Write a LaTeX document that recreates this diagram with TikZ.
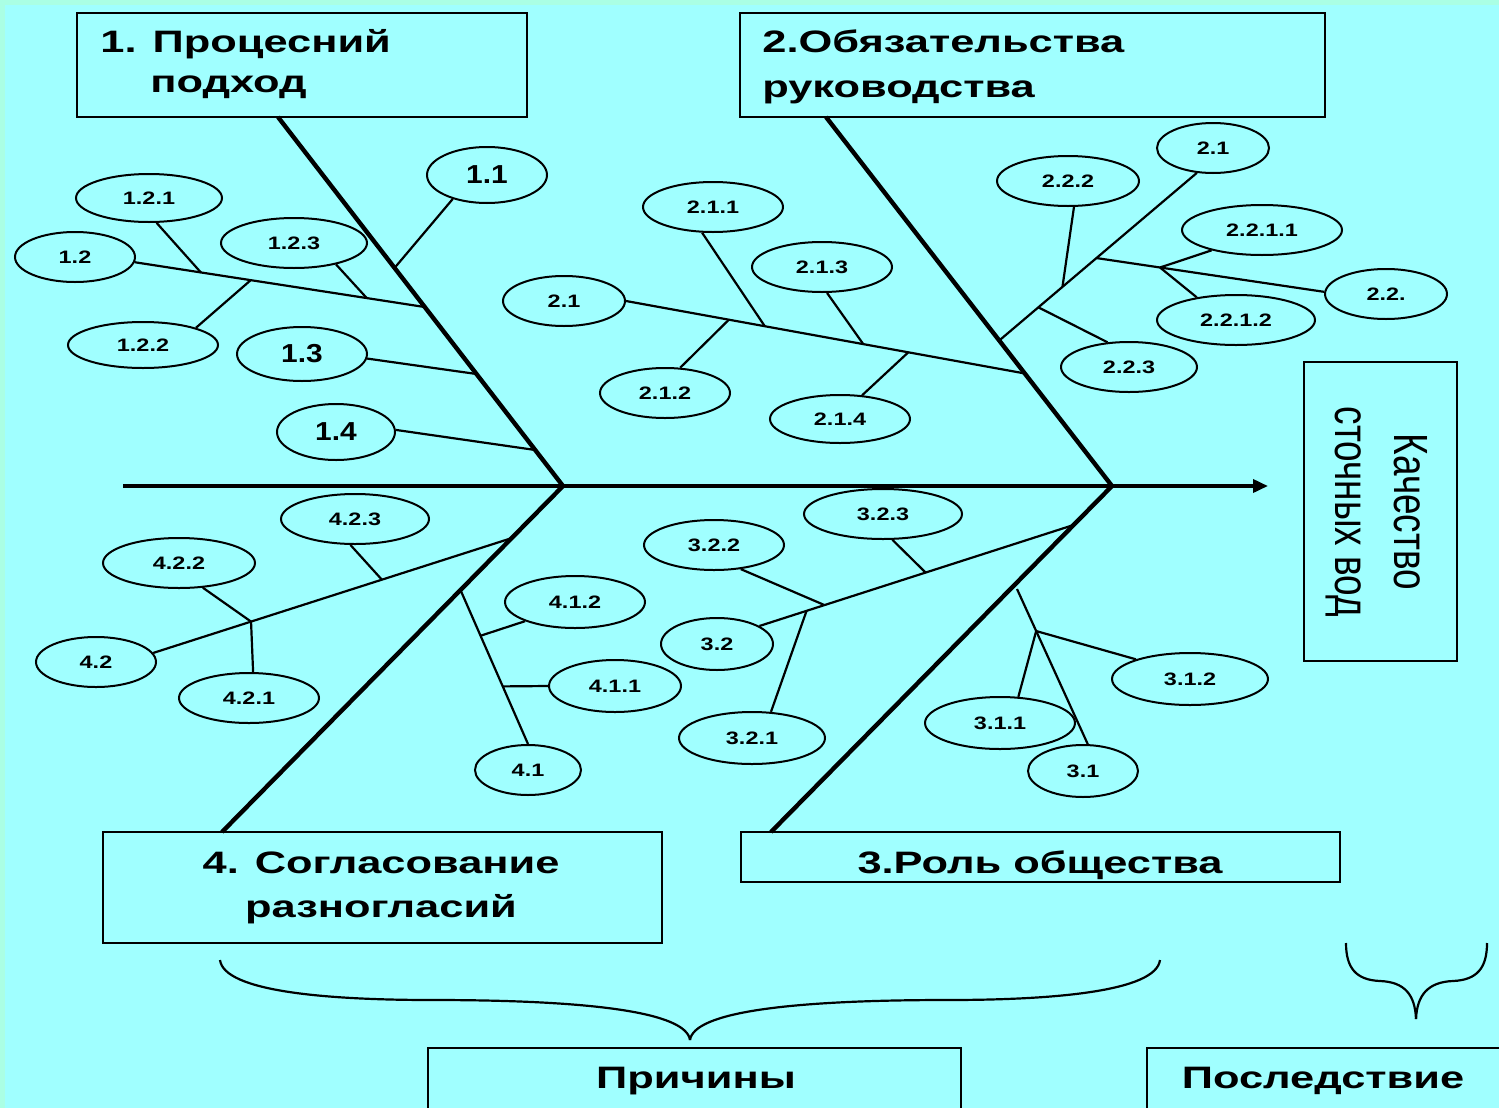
\documentclass[tikz,border=0pt]{standalone}
\usepackage{fontspec}
\setmainfont{Liberation Sans}
\newfontfamily\wf[FakeStretch=1.4]{Liberation Sans}
\newfontfamily\wfs[FakeStretch=1.3]{Liberation Sans}
\newfontfamily\wfm[FakeStretch=1.15]{Liberation Sans}
\newfontfamily\nf[FakeStretch=0.77]{Liberation Sans}
\usetikzlibrary{shapes.geometric,arrows.meta,calc}
\definecolor{bgc}{RGB}{160,255,255}
\definecolor{edgec}{RGB}{170,255,228}
\begin{document}
\begin{tikzpicture}[x=0.5pt,y=-0.5pt,
  ell/.style 2 args={ellipse,draw,line width=1pt,inner sep=0pt,minimum width=#1pt,minimum height=#2pt,font=\wfs\bfseries\fontsize{9}{10}\selectfont},
  bigl/.style={font=\wfm\bfseries\fontsize{13}{15}\selectfont},
  box/.style={draw,line width=1.4pt,inner sep=0pt},
  btxt/.style={inner sep=0pt,font=\wf\bfseries\fontsize{15.5}{18}\selectfont},
  twig/.style={line width=1.1pt},
  bone/.style={line width=2.2pt},
  spine/.style={line width=1.8pt},
  brace/.style={line width=1.1pt},
]
\fill[edgec] (0,0) rectangle (1499,1108);
\fill[bgc] (5,5) rectangle (1499,1108);
\useasboundingbox (0,0) rectangle (1499,1108);
\clip (0,0) rectangle (1499,1108);

% boxes
\node[box,minimum width=225pt,minimum height=52pt] (b1) at (302,65) {};
\node[box,minimum width=292.5pt,minimum height=52pt] (b2) at (1032.5,65) {};
\node[box,minimum width=279.5pt,minimum height=55.5pt] (b4) at (382.5,887.5) {};
\node[box,minimum width=299.5pt,minimum height=25pt] (b3) at (1040.5,857) {};
\node[box,minimum width=76.5pt,minimum height=149.5pt] (bq) at (1380.5,511.5) {};
\node[box,minimum width=266.5pt,minimum height=40pt] (bp) at (694.5,1088) {};
\node[box,minimum width=181.5pt,minimum height=40pt] (bs) at (1328.5,1088) {};

% box texts
\node[btxt,anchor=base west] (t1a) at (100,53) {1. Процесний};
\node[btxt,anchor=base west] (t1b) at (150,92) {подход};
\node[btxt,anchor=base west] (t2a) at (762,53) {2.Обязательства};
\node[btxt,anchor=base west] (t2b) at (762,97) {руководства};
\node[btxt,anchor=base] (t4a) at (381,873) {4. Согласование};
\node[btxt,anchor=base] (t4b) at (381,917) {разногласий};
\node[btxt,anchor=base] (t3) at (1040,873) {3.Роль общества};
\node[btxt,anchor=base] (tp) at (696,1088) {Причины};
\node[btxt,anchor=base] (ts) at (1323,1088) {Последствие};
\node[rotate=-90,align=center,inner sep=0pt,font=\nf\fontsize{24}{29.5}\selectfont] (tq) at (1377,512) {Качество\\сточных вод};

% ellipses group 1
\node[ell={60}{28},bigl] (e11) at (487,175) {1.1};
\node[ell={60}{25}] (e12) at (75,257) {1.2};
\node[ell={73}{24}] (e121) at (149,198) {1.2.1};
\node[ell={73}{25}] (e123) at (294,243) {1.2.3};
\node[ell={75}{23}] (e122) at (143,345) {1.2.2};
\node[ell={65}{27},bigl] (e13) at (302,354) {1.3};
\node[ell={59}{28},bigl] (e14) at (336,432) {1.4};
% group 2
\node[ell={61}{25}] (e21) at (564,301) {2.1};
\node[ell={70}{25}] (e211) at (713,207) {2.1.1};
\node[ell={70}{25}] (e213) at (822,267) {2.1.3};
\node[ell={65}{25}] (e212) at (665,393) {2.1.2};
\node[ell={70}{24}] (e214) at (840,419) {2.1.4};
\node[ell={56}{25}] (e2r) at (1213,148) {2.1};
\node[ell={71}{25}] (e222) at (1068,181) {2.2.2};
\node[ell={80}{25}] (e2211) at (1262,230) {2.2.1.1};
\node[ell={61}{25}] (e22) at (1386,294) {2.2.};
\node[ell={79}{25}] (e2212) at (1236,320) {2.2.1.2};
\node[ell={68}{25}] (e223) at (1129,367) {2.2.3};
% group 4
\node[ell={74}{25}] (e423) at (355,519) {4.2.3};
\node[ell={76}{25}] (e422) at (179,563) {4.2.2};
\node[ell={60}{25}] (e42) at (96,662) {4.2};
\node[ell={70}{25}] (e421) at (249,698) {4.2.1};
\node[ell={70}{26}] (e412) at (575,602) {4.1.2};
\node[ell={66}{26}] (e411) at (615,686) {4.1.1};
\node[ell={53}{25}] (e41) at (528,770) {4.1};
% group 3
\node[ell={79}{25}] (e323) at (883,514) {3.2.3};
\node[ell={70}{25}] (e322) at (714,545) {3.2.2};
\node[ell={56}{26}] (e32) at (717,644) {3.2};
\node[ell={73}{26}] (e321) at (752,738) {3.2.1};
\node[ell={78}{26}] (e312) at (1190,679) {3.1.2};
\node[ell={75}{26}] (e311) at (1000,723) {3.1.1};
\node[ell={55}{26}] (e31) at (1083,771) {3.1};

% skeleton coordinates
\coordinate (B1t) at (278,117);
\coordinate (J1) at (563,486);
\coordinate (B4b) at (222,832);
\coordinate (B2t) at (826,117);
\coordinate (J2) at (1112,486);
\coordinate (B3b) at (771,832);
\coordinate (sp0) at (123,486);
\coordinate (sp1) at (1268,486);

\coordinate (k11) at ($(B1t)!0.409!(J1)$);
\coordinate (k12) at ($(B1t)!0.515!(J1)$);
\coordinate (k13) at ($(B1t)!0.6965!(J1)$);
\coordinate (k14) at ($(B1t)!0.9024!(J1)$);
\coordinate (k21) at ($(B2t)!0.695!(J2)$);
\coordinate (k22) at ($(B2t)!0.6057!(J2)$);
\coordinate (k42) at ($(J1)!0.1506!(B4b)$);
\coordinate (k41) at ($(J1)!0.3006!(B4b)$);
\coordinate (k32) at ($(J2)!0.1127!(B3b)$);
\coordinate (k31) at (1017,589);

\coordinate (s12) at (e12.355);
\coordinate (s21) at (e21.0);
\coordinate (s2r) at (e2r.237);
\coordinate (s22) at (e22.178);
\coordinate (s42) at (e42.9);
\coordinate (s41) at (e41.90);
\coordinate (s32) at (e32.23);
\coordinate (s31) at (e31.80);

\coordinate (j121) at ($(s12)!0.228!(k12)$);
\coordinate (j123) at ($(s12)!0.8!(k12)$);
\coordinate (j122) at ($(s12)!0.4!(k12)$);
\coordinate (j211) at ($(s21)!0.348!(k21)$);
\coordinate (j213) at ($(s21)!0.595!(k21)$);
\coordinate (j212) at ($(s21)!0.258!(k21)$);
\coordinate (j214) at ($(s21)!0.708!(k21)$);
\coordinate (j222) at ($(s2r)!0.680!(k22)$);
\coordinate (j223) at ($(s2r)!0.802!(k22)$);
\coordinate (j22) at ($(s2r)!0.508!(k22)$);
\coordinate (j221) at ($(j22)!0.279!(s22)$);
\coordinate (j423) at ($(s42)!0.638!(k42)$);
\coordinate (j42x) at ($(s42)!0.273!(k42)$);
\coordinate (j412) at ($(k41)!0.297!(s41)$);
\coordinate (j411) at ($(k41)!0.626!(s41)$);
\coordinate (j323) at ($(s32)!0.529!(k32)$);
\coordinate (j322) at ($(s32)!0.207!(k32)$);
\coordinate (j321) at ($(s32)!0.150!(k32)$);
\coordinate (j31) at ($(k31)!0.271!(s31)$);

% main skeleton
\draw[bone] (B1t) -- (J1) -- (B4b);
\draw[bone] (B2t) -- (J2) -- (B3b);
\draw[spine,-{Triangle[length=7.5pt,width=6.5pt]}] (sp0) -- (sp1);

% twigs
\draw[twig] (e11.215) -- (k11);
\draw[twig] (s12) -- (k12);
\draw[twig] (e121.287) -- (j121);
\draw[twig] (e123.333) -- (j123);
\draw[twig] (e122.18) -- (j122);
\draw[twig] (e13.356) -- (k13);
\draw[twig] (e14.2) -- (k14);
\draw[twig] (s21) -- (k21);
\draw[twig] (e211.247) -- (j211);
\draw[twig] (e213.281) -- (j213);
\draw[twig] (e212.59) -- (j212);
\draw[twig] (e214.47) -- (j214);
\draw[twig] (s2r) -- (k22);
\draw[twig] (e222.283) -- (j222);
\draw[twig] (e223.131) -- (j223);
\draw[twig] (j22) -- (s22);
\draw[twig] (e2211.202) -- (j221);
\draw[twig] (e2212.150) -- (j221);
\draw[twig] (s42) -- (k42);
\draw[twig] (e423.260) -- (j423);
\draw[twig] (e422.314) -- (j42x);
\draw[twig] (e421.81) -- (j42x);
\draw[twig] (k41) -- (s41);
\draw[twig] (e412.201) -- (j412);
\draw[twig] (e411.180) -- (j411);
\draw[twig] (s32) -- (k32);
\draw[twig] (e323.290) -- (j323);
\draw[twig] (e322.318) -- (j322);
\draw[twig] (e321.54) -- (j321);
\draw[twig] (k31) -- (s31);
\draw[twig] (e311.55) -- (j31);
\draw[twig] (e312.160) -- (j31);

% braces
\coordinate (brL) at (220,960);
\coordinate (brM) at (690,1040);
\coordinate (brR) at (1160,960);
\draw[brace] (brL) .. controls (224,992) and (330,1000) .. (432,1000) .. controls (590,1000) and (686,1012) .. (brM);
\draw[brace] (brR) .. controls (1156,992) and (1050,1000) .. (948,1000) .. controls (790,1000) and (694,1012) .. (brM);
\coordinate (sbL) at (1346,943);
\coordinate (sbM) at (1416,1019);
\coordinate (sbR) at (1487,943);
\draw[brace] (sbL) .. controls (1346,968) and (1356,980) .. (1380,981) .. controls (1405,982) and (1415,995) .. (sbM);
\draw[brace] (sbR) .. controls (1487,968) and (1477,980) .. (1453,981) .. controls (1428,982) and (1417,995) .. (sbM);
\end{tikzpicture}
\end{document}
